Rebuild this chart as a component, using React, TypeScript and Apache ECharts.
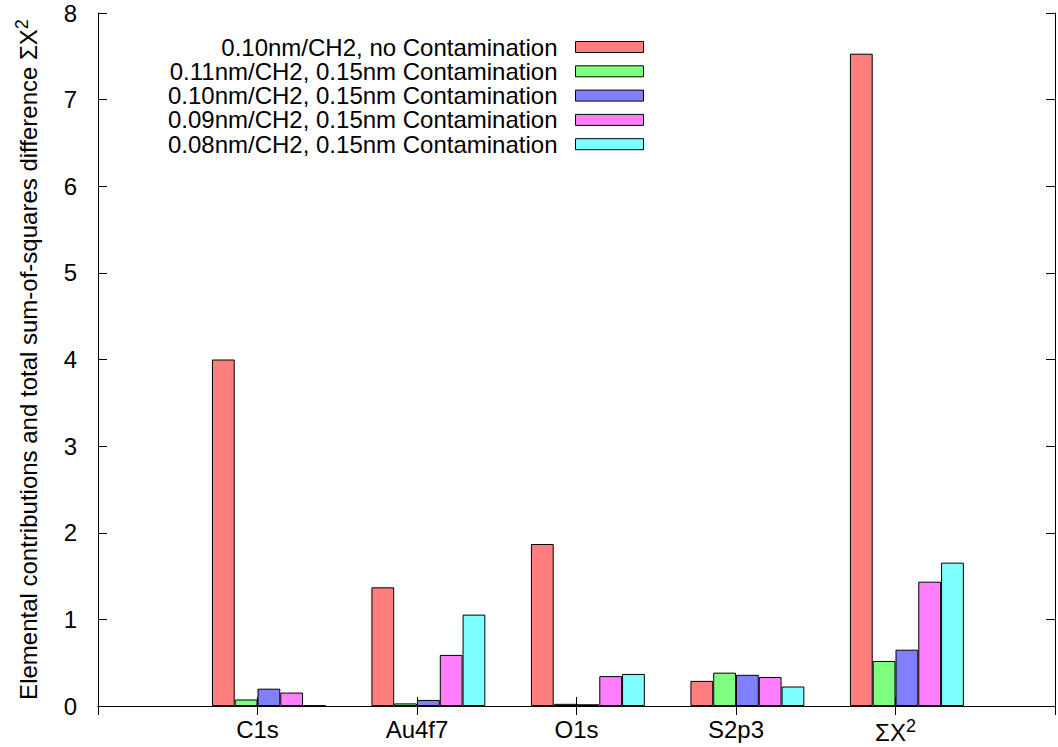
import React, { useEffect, useRef } from 'react';
import * as echarts from 'echarts';

// Elements along the x axis (empty slots pad both ends of the frame)
const categories = ['', 'C1s', 'Au4f7', 'O1s', 'S2p3', 'ΣX²', ''];

const seriesNames = [
  '0.10nm/CH2, no Contamination',
  '0.11nm/CH2, 0.15nm Contamination',
  '0.10nm/CH2, 0.15nm Contamination',
  '0.09nm/CH2, 0.15nm Contamination',
  '0.08nm/CH2, 0.15nm Contamination',
];

// Contributions per element, last entry is the total ΣX²
const noContamination010 = [null, 4.0, 1.37, 1.87, 0.29, 7.53, null];
const contamination011 = [null, 0.075, 0.03, 0.025, 0.385, 0.52, null];
const contamination010 = [null, 0.2, 0.07, 0.02, 0.36, 0.65, null];
const contamination009 = [null, 0.155, 0.59, 0.345, 0.335, 1.435, null];
const contamination008 = [null, 0.005, 1.055, 0.37, 0.225, 1.655, null];

const yTicks = [0, 1, 2, 3, 4, 5, 6, 7, 8];

const colors = ['#ff7f7f', '#7fff7f', '#7f7fff', '#ff7fff', '#7fffff'];
const FONT = '"Liberation Sans", Arial, Helvetica, sans-serif';
const FS = 24;

export default function App() {
  const ref = useRef<HTMLDivElement>(null);

  useEffect(() => {
    if (!ref.current) return;
    const chart = echarts.init(ref.current, undefined, { renderer: 'svg' });
    const values = [
      noContamination010,
      contamination011,
      contamination010,
      contamination009,
      contamination008,
    ];

    const supRich = {
      sup: { fontSize: 18, fontFamily: FONT, color: '#000', padding: [0, 0, 12, 0] },
    };

    const catLabel = (v: string) => v.replace('²', '{sup|2}');

    const bars = values.map((data, i) => ({
      name: seriesNames[i],
      type: 'bar',
      data,
      barWidth: '14.2857%',
      barGap: '0%',
      itemStyle: { color: colors[i], borderColor: '#000', borderWidth: 1 },
    }));

    chart.setOption({
      animation: false,
      backgroundColor: '#fff',
      textStyle: { fontFamily: FONT },
      grid: { left: 98, top: 13, width: 967, height: 693, containLabel: false },
      legend: {
        data: seriesNames,
        orient: 'vertical',
        align: 'right',
        right: 414,
        top: 35,
        padding: 0,
        itemWidth: 68,
        itemHeight: 11,
        itemGap: 0.3,
        icon: 'rect',
        selectedMode: false,
        itemStyle: { borderColor: '#000', borderWidth: 1 },
        textStyle: { fontSize: FS, lineHeight: 23, color: '#000', fontFamily: FONT, padding: [0, 13, 0, 0] },
      },
      xAxis: [
        {
          type: 'category',
          data: categories,
          boundaryGap: false,
          position: 'bottom',
          axisLine: { lineStyle: { color: '#000', width: 1 } },
          axisTick: { inside: true, length: 9, lineStyle: { color: '#000' } },
          axisLabel: {
            fontSize: FS,
            color: '#000',
            fontFamily: FONT,
            margin: 11,
            formatter: catLabel,
            rich: supRich,
          },
          splitLine: { show: false },
        },
        {
          type: 'category',
          data: categories,
          boundaryGap: false,
          position: 'top',
          axisLine: { lineStyle: { color: '#000', width: 1 } },
          axisTick: { inside: true, length: 9, lineStyle: { color: '#000' } },
          axisLabel: { show: false },
          splitLine: { show: false },
        },
      ],
      yAxis: [
        {
          type: 'value',
          min: yTicks[0],
          max: yTicks[yTicks.length - 1],
          interval: 1,
          position: 'left',
          name: 'Elemental contributions and total sum-of-squares difference ΣX{sup|2}',
          nameLocation: 'middle',
          nameGap: 55,
          nameTextStyle: { fontSize: FS, color: '#000', fontFamily: FONT, rich: supRich },
          axisLine: { show: true, lineStyle: { color: '#000', width: 1 } },
          axisTick: { show: true, inside: true, length: 9, lineStyle: { color: '#000' } },
          axisLabel: { fontSize: FS, color: '#000', fontFamily: FONT, margin: 21 },
          splitLine: { show: false },
        },
        {
          type: 'value',
          min: yTicks[0],
          max: yTicks[yTicks.length - 1],
          interval: 1,
          position: 'right',
          axisLine: { show: true, lineStyle: { color: '#000', width: 1 } },
          axisTick: { show: true, inside: true, length: 9, lineStyle: { color: '#000' } },
          axisLabel: { show: false },
          splitLine: { show: false },
        },
      ],
      series: [
        // empty leading slot so each cluster sits just right of its tick
        { name: 'slot', type: 'bar', data: [], barWidth: '14.2857%', barGap: '0%' },
        ...bars,
      ],
    });

    return () => chart.dispose();
  }, []);

  return (
    <div
      ref={ref}
      style={{ position: 'absolute', left: 0, top: 0, width: 1058, height: 747 }}
    />
  );
}
